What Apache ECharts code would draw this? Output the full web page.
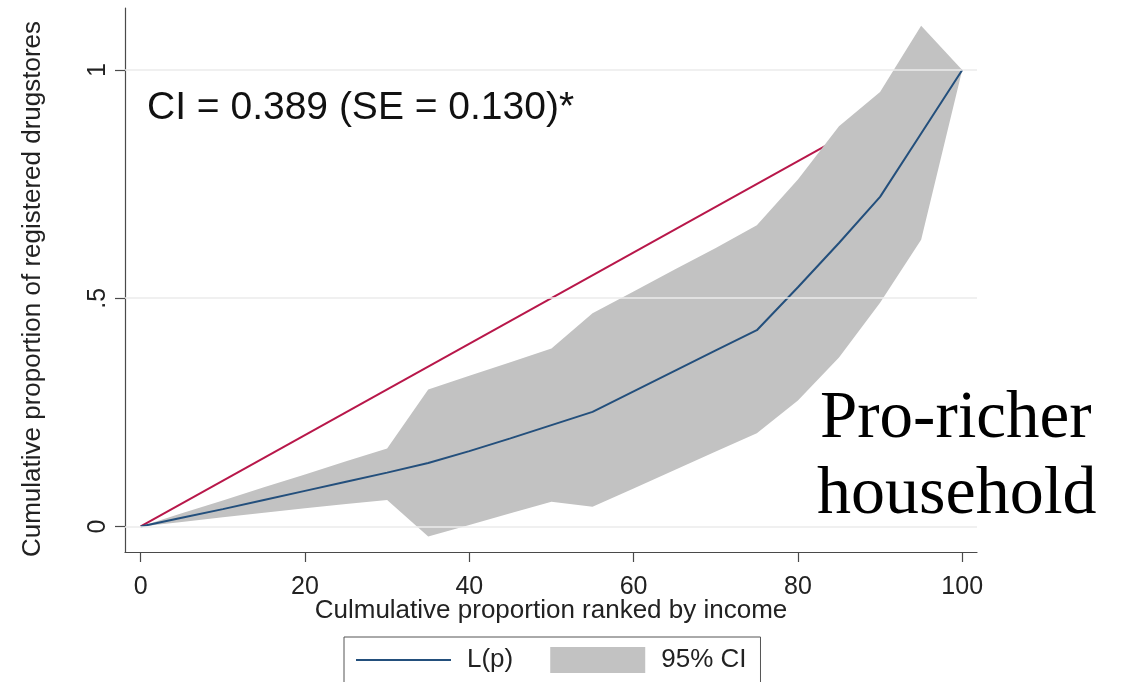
<!DOCTYPE html>
<html>
<head>
<meta charset="utf-8">
<script src="https://cdn.jsdelivr.net/npm/echarts@6/dist/echarts.min.js"></script>
<style>
html, body { margin: 0; padding: 0; background: #ffffff; }
#chart { width: 1132px; height: 682px; }
</style>
</head>
<body>
<div id="chart"></div>
<script>
// ---- data ----
const pVals   = [0, 5, 10, 15, 20, 25, 30, 35, 40, 45, 50, 55, 60, 65, 70, 75, 80, 85, 90, 95, 100];
const lorenz  = [0, 0.019, 0.038, 0.058, 0.078, 0.098, 0.118, 0.139, 0.165, 0.193, 0.222, 0.251, 0.296, 0.341, 0.386, 0.430, 0.524, 0.621, 0.722, 0.861, 1.0];
const ciLower = [0, 0.010, 0.020, 0.030, 0.040, 0.049, 0.058, -0.022, 0.003, 0.029, 0.054, 0.043, 0.083, 0.124, 0.164, 0.204, 0.276, 0.370, 0.490, 0.628, 1.0];
const ciUpper = [0, 0.029, 0.057, 0.086, 0.114, 0.143, 0.171, 0.300, 0.330, 0.360, 0.390, 0.467, 0.515, 0.563, 0.610, 0.660, 0.760, 0.877, 0.952, 1.097, 1.0];
const equalityX = [0, 100];
const equalityY = [0, 1];
const xTicks = [0, 20, 40, 60, 80, 100];
const yTicks = [0, 0.5, 1];
const yTickLabels = ['0', '.5', '1'];
const xTitle = 'Culmulative proportion ranked by income';
const yTitle = 'Cumulative proportion of registered drugstores';
const ciText = 'CI = 0.389 (SE = 0.130)*';
const noteLine1 = 'Pro-richer';
const noteLine2 = 'household';

const SANS = '"Liberation Sans", Arial, Helvetica, sans-serif';
const SERIF = '"Liberation Serif", "Times New Roman", serif';
const bandColor = '#c2c2c2';
const lineColor = '#234f7c';
const eqColor = '#b8174a';
const axisColor = '#4a4a4a';

const chart = echarts.init(document.getElementById('chart'), null, { renderer: 'canvas' });

const option = {
  backgroundColor: '#ffffff',
  animation: false,
  grid: { left: 125, right: 155, top: 8, bottom: 130 },
  xAxis: {
    type: 'value',
    min: -1.91,
    max: 101.8,
    name: xTitle,
    nameLocation: 'middle',
    nameGap: 46,
    nameMoveOverlap: false,
    nameTextStyle: { fontSize: 26, color: '#222', fontFamily: SANS },
    axisLine: { show: true, onZero: false, lineStyle: { color: axisColor, width: 1.2 } },
    axisTick: { show: true, customValues: xTicks, length: 10, lineStyle: { color: axisColor, width: 1.2 } },
    axisLabel: { customValues: xTicks, fontSize: 25, color: '#222', fontFamily: SANS, margin: 23 },
    splitLine: { show: false }
  },
  yAxis: {
    type: 'value',
    min: -0.0559,
    max: 1.1358,
    name: yTitle,
    nameLocation: 'middle',
    nameGap: 79,
    nameMoveOverlap: false,
    nameRotate: 90,
    nameTextStyle: { fontSize: 26, color: '#222', fontFamily: SANS, padding: [0, 18, 0, 0] },
    axisLine: { show: true, onZero: false, lineStyle: { color: axisColor, width: 1.2 } },
    axisTick: { show: true, customValues: yTicks, length: 10, lineStyle: { color: axisColor, width: 1.2 } },
    axisLabel: {
      customValues: yTicks,
      rotate: 90,
      fontSize: 25,
      color: '#222',
      fontFamily: SANS,
      margin: 14,
      formatter: function (v) {
        const i = yTicks.findIndex(t => Math.abs(t - v) < 1e-9);
        return i >= 0 ? yTickLabels[i] : '';
      }
    },
    splitLine: { show: false }
  },
  legend: {
    data: [
      { name: 'L(p)', itemStyle: { opacity: 0 } },
      { name: '95% CI', icon: 'rect' }
    ],
    left: 344,
    top: 637,
    orient: 'horizontal',
    padding: [10, 14, 40, 11],
    itemWidth: 95,
    itemHeight: 26,
    itemGap: 37,
    borderColor: '#555',
    borderWidth: 1,
    backgroundColor: '#ffffff',
    selectedMode: false,
    textStyle: { fontSize: 26, color: '#222', fontFamily: SANS, padding: [0, 0, 0, 11] }
  },
  graphic: [
    {
      type: 'text', left: 147, top: 89,
      style: { text: ciText, font: '39px ' + SANS, fill: '#111' }
    },
    {
      type: 'text', left: 820, top: 386,
      style: { text: noteLine1, font: '67px ' + SERIF, fill: '#000' }
    },
    {
      type: 'text', left: 817, top: 461,
      style: { text: noteLine2, font: '68px ' + SERIF, fill: '#000' }
    }
  ],
  series: [
    {
      name: 'Line of equality',
      type: 'line',
      data: equalityX.map((x, i) => [x, equalityY[i]]),
      symbol: 'none',
      lineStyle: { color: eqColor, width: 2 },
      z: 2,
      markLine: {
        silent: true,
        symbol: ['none', 'none'],
        label: { show: false },
        lineStyle: { color: '#ebebeb', width: 1.5, type: 'solid' },
        data: yTicks.map(v => ({ yAxis: v }))
      }
    },
    {
      name: '95% CI',
      type: 'custom',
      itemStyle: { color: bandColor },
      data: pVals.map((p, i) => [p, ciLower[i], ciUpper[i]]),
      encode: { x: 0, y: [1, 2] },
      z: 3,
      renderItem: function (params, api) {
        if (params.dataIndex !== 0) return null;
        const pts = [];
        for (let i = 0; i < pVals.length; i++) pts.push(api.coord([pVals[i], ciUpper[i]]));
        for (let i = pVals.length - 1; i >= 0; i--) pts.push(api.coord([pVals[i], ciLower[i]]));
        return { type: 'polygon', shape: { points: pts }, style: { fill: bandColor } };
      }
    },
    {
      name: 'L(p)',
      type: 'line',
      data: pVals.map((p, i) => [p, lorenz[i]]),
      symbol: 'none',
      lineStyle: { color: lineColor, width: 2 },
      itemStyle: { color: lineColor },
      z: 4
    }
  ]
};
chart.setOption(option);
</script>
</body>
</html>
